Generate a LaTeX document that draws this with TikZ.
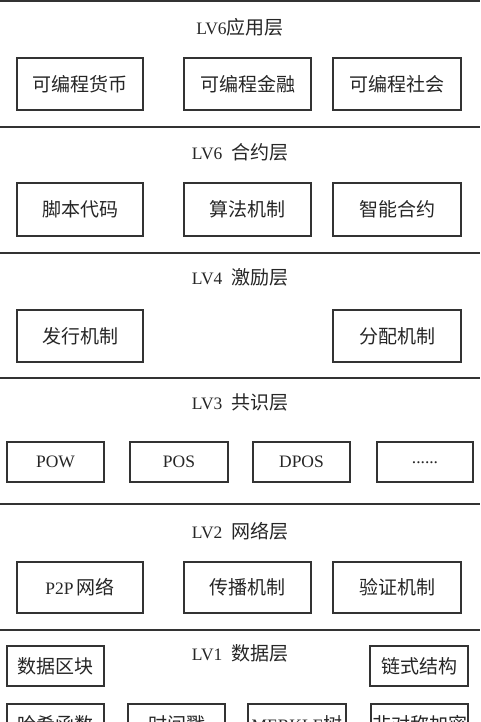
\documentclass[tikz,border=0pt]{standalone}
\usepackage{fontspec}
\setmainfont{Liberation Serif}[Scale=0.92]
\newfontfamily\cjk{Noto Sans CJK SC}
\newcommand{\zh}[1]{{\cjk #1}}
\tikzset{
  sepline/.style={line width=1.6pt, draw=black!80},
  boxbase/.style={draw=black!80, line width=1.1pt, fill=white, inner sep=0pt,
    font=\fontsize{19pt}{22pt}\selectfont, text=black!85},
  widebox/.style={boxbase, minimum width=126pt, minimum height=52pt},
  narrowbox/.style={boxbase, minimum width=97pt, minimum height=40pt},
  layertitle/.style={inner sep=0pt, font=\fontsize{19pt}{22pt}\selectfont, text=black!85}
}
\begin{document}
\begin{tikzpicture}[x=1pt,y=-1pt]
\useasboundingbox (0,0) rectangle (480,722);
\clip (0,0) rectangle (480,722);
\fill[white] (0,0) rectangle (480,722);
% separator lines
\coordinate (s0l) at (0,1);   \coordinate (s0r) at (480,1);
\coordinate (s1l) at (0,127); \coordinate (s1r) at (480,127);
\coordinate (s2l) at (0,253); \coordinate (s2r) at (480,253);
\coordinate (s3l) at (0,378); \coordinate (s3r) at (480,378);
\coordinate (s4l) at (0,504); \coordinate (s4r) at (480,504);
\coordinate (s5l) at (0,630); \coordinate (s5r) at (480,630);
\draw[sepline] (s0l) -- (s0r);
\draw[sepline] (s1l) -- (s1r);
\draw[sepline] (s2l) -- (s2r);
\draw[sepline] (s3l) -- (s3r);
\draw[sepline] (s4l) -- (s4r);
\draw[sepline] (s5l) -- (s5r);
% application layer
\node[layertitle] (t1) at (240,27) {LV6\zh{应用层}};
\node[widebox] (a1) at (80,84) {\zh{可编程货币}};
\node[widebox, minimum width=127pt] (a2) at (247.5,84) {\zh{可编程金融}};
\node[widebox, minimum width=128pt] (a3) at (397,84) {\zh{可编程社会}};
% contract layer
\node[layertitle] (t2) at (240,152) {LV6\ \ \zh{合约层}};
\node[widebox, minimum height=53pt] (b1) at (80,209.5) {\zh{脚本代码}};
\node[widebox, minimum width=127pt, minimum height=53pt] (b2) at (247.5,209.5) {\zh{算法机制}};
\node[widebox, minimum width=128pt, minimum height=53pt] (b3) at (397,209.5) {\zh{智能合约}};
% incentive layer
\node[layertitle] (t3) at (240,277) {LV4\ \ \zh{激励层}};
\node[widebox] (c1) at (80,336) {\zh{发行机制}};
\node[widebox, minimum width=128pt] (c2) at (397,336) {\zh{分配机制}};
% consensus layer
\node[layertitle] (t4) at (240,402) {LV3\ \ \zh{共识层}};
\node[narrowbox] (d1) at (55.5,462) {POW};
\node[narrowbox, minimum width=98pt] (d2) at (179,462) {POS};
\node[narrowbox] (d3) at (301.5,462) {DPOS};
\node[narrowbox, minimum width=96pt] (d4) at (425,462) {\raisebox{-2.5pt}{......}};
% network layer
\node[layertitle] (t5) at (240,531) {LV2\ \ \zh{网络层}};
\node[widebox, minimum height=51pt] (e1) at (80,587.5) {P2P\,\zh{网络}};
\node[widebox, minimum width=127pt, minimum height=51pt] (e2) at (247.5,587.5) {\zh{传播机制}};
\node[widebox, minimum width=128pt, minimum height=51pt] (e3) at (397,587.5) {\zh{验证机制}};
% data layer
\node[layertitle] (t6) at (240,653) {LV1\ \ \zh{数据层}};
\node[narrowbox] (f1) at (55.5,666) {\zh{数据区块}};
\node[narrowbox, minimum width=98pt] (f2) at (419,666) {\zh{链式结构}};
\node[narrowbox] (g1) at (55.5,724) {\zh{哈希函数}};
\node[narrowbox] (g2) at (176.5,724) {\zh{时间戳}};
\node[narrowbox, minimum width=98pt] (g3) at (297,724) {MERKLE\zh{树}};
\node[narrowbox] (g4) at (419.5,724) {\zh{非对称加密}};
\end{tikzpicture}
\end{document}
